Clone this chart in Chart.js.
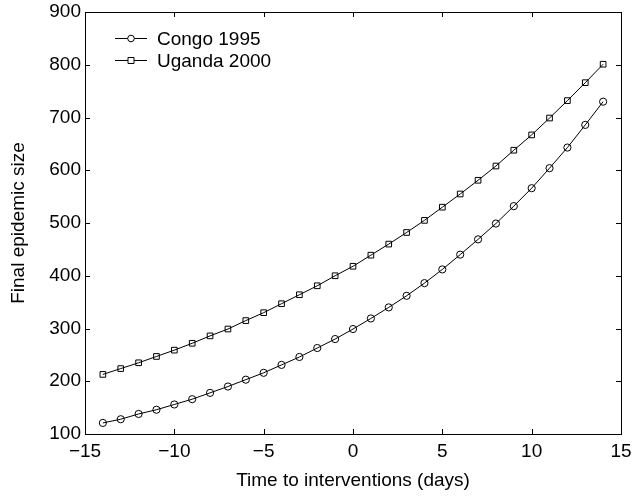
<!DOCTYPE html>
<html>
<head>
<meta charset="utf-8">
<script src="https://cdn.jsdelivr.net/npm/chart.js@4"></script>
<style>
  html, body { margin: 0; padding: 0; background: #fff; }
  #wrap { width: 634px; height: 497px; }
</style>
</head>
<body>
<div id="wrap"><canvas id="epiChart" width="634" height="497"></canvas></div>
<script>
// Data
const days = [-14, -13, -12, -11, -10, -9, -8, -7, -6, -5, -4, -3, -2, -1, 0,
  1, 2, 3, 4, 5, 6, 7, 8, 9, 10, 11, 12, 13, 14];
const congo1995 = [121, 128, 138, 146, 156, 166, 178, 190, 203, 216, 231, 246, 263, 280, 299,
  319, 340, 362, 386, 412, 440, 469, 499, 532, 566, 604, 643, 686, 730];
const uganda2000 = [213, 224, 235, 247, 259, 272, 286, 299, 315, 330, 347, 364, 381, 400, 418,
  439, 460, 482, 505, 530, 555, 581, 608, 638, 667, 699, 732, 766, 801];
const seriesNames = ["Congo 1995", "Uganda 2000"];
const xTicks = [-15, -10, -5, 0, 5, 10, 15];
const yTicks = [100, 200, 300, 400, 500, 600, 700, 800, 900];

const FONT = "'Liberation Sans', Arial, Helvetica, sans-serif";
const FONT_SIZE = 19;

function toPoints(ys) {
  return days.map((d, i) => ({ x: d, y: ys[i] }));
}

function minusSign(v) {
  return String(v).replace("-", "\u2212");
}

// Box frame, inward ticks on all sides and the legend inside the plot
const frameAndLegend = {
  id: "frameAndLegend",
  afterDraw(chart) {
    const c = chart.ctx;
    const a = chart.chartArea;
    const xs = chart.scales.x;
    const ys = chart.scales.y;
    const len = 5;
    c.save();
    c.strokeStyle = "#000";
    c.lineWidth = 1;
    c.strokeRect(Math.round(a.left) + 0.5, Math.round(a.top) + 0.5,
      Math.round(a.right - a.left), Math.round(a.bottom - a.top));
    c.beginPath();
    xTicks.forEach(v => {
      const px = Math.round(xs.getPixelForValue(v)) + 0.5;
      c.moveTo(px, a.bottom); c.lineTo(px, a.bottom - len);
      c.moveTo(px, a.top); c.lineTo(px, a.top + len);
    });
    yTicks.forEach(v => {
      const py = Math.round(ys.getPixelForValue(v)) + 0.5;
      c.moveTo(a.left, py); c.lineTo(a.left + len, py);
      c.moveTo(a.right, py); c.lineTo(a.right - len, py);
    });
    c.stroke();

    // legend
    const lx = a.left + 30, rowH = 22, ly = a.top + 26;
    c.font = FONT_SIZE + "px " + FONT;
    c.textBaseline = "middle";
    chart.data.datasets.forEach((ds, i) => {
      const y = Math.round(ly + i * rowH) + 0.5;
      c.beginPath();
      c.moveTo(lx, y); c.lineTo(lx + 32, y);
      c.stroke();
      const mx = lx + 16;
      c.beginPath();
      if (ds.pointStyle === "rect") {
        c.rect(mx - 3, y - 3, 6, 6);
      } else {
        c.arc(mx, y, 3.3, 0, Math.PI * 2);
      }
      c.fillStyle = "#fff";
      c.fill();
      c.stroke();
      c.fillStyle = "#000";
      c.fillText(seriesNames[i], lx + 42, y + 1);
    });
    c.restore();
  }
};

const ctx = document.getElementById("epiChart").getContext("2d");
const epiChart = new Chart(ctx, {
  type: "line",
  data: {
    datasets: [
      {
        label: seriesNames[0],
        data: toPoints(congo1995),
        borderColor: "#000",
        borderWidth: 1,
        pointStyle: "circle",
        pointRadius: 3.6,
        pointBorderWidth: 1,
        pointBorderColor: "#000",
        pointBackgroundColor: "rgba(255,255,255,0)",
        tension: 0
      },
      {
        label: seriesNames[1],
        data: toPoints(uganda2000),
        borderColor: "#000",
        borderWidth: 1,
        pointStyle: "rect",
        pointRadius: 4,
        pointBorderWidth: 1,
        pointBorderColor: "#000",
        pointBackgroundColor: "rgba(255,255,255,0)",
        tension: 0
      }
    ]
  },
  options: {
    responsive: false,
    maintainAspectRatio: false,
    animation: false,
    layout: { padding: { top: 12, right: 13, left: 0, bottom: 0 } },
    plugins: {
      legend: { display: false },
      tooltip: { enabled: false }
    },
    scales: {
      x: {
        type: "linear",
        min: -15,
        max: 15,
        afterBuildTicks: s => { s.ticks = xTicks.map(v => ({ value: v })); },
        afterFit: s => { s.height = 63; s.paddingLeft = 0; s.paddingRight = 0; },
        grid: { display: false, drawTicks: false },
        border: { display: false },
        ticks: {
          color: "#000",
          padding: 6,
          maxRotation: 0,
          font: { family: FONT, size: FONT_SIZE },
          callback: v => minusSign(v)
        },
        title: {
          display: true,
          text: "Time to interventions (days)",
          color: "#000",
          font: { family: FONT, size: FONT_SIZE },
          padding: { top: 4, bottom: 5 }
        }
      },
      y: {
        min: 100,
        max: 900,
        afterBuildTicks: s => { s.ticks = yTicks.map(v => ({ value: v })); },
        afterFit: s => { s.width = 85; s.paddingTop = 0; s.paddingBottom = 0; },
        grid: { display: false, drawTicks: false },
        border: { display: false },
        ticks: {
          color: "#000",
          padding: 4,
          font: { family: FONT, size: FONT_SIZE }
        },
        title: {
          display: true,
          text: "Final epidemic size",
          color: "#000",
          font: { family: FONT, size: FONT_SIZE },
          padding: { top: 7.5, bottom: 4 }
        }
      }
    }
  },
  plugins: [frameAndLegend]
});
</script>
</body>
</html>
